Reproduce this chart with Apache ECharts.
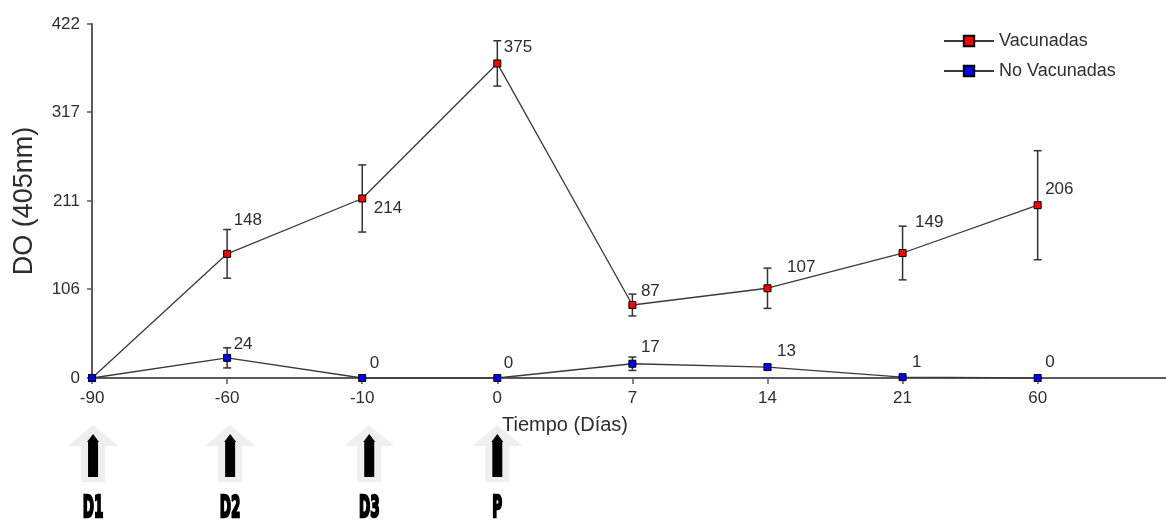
<!DOCTYPE html>
<html><head><meta charset="utf-8">
<script src="https://cdn.jsdelivr.net/npm/echarts@6/dist/echarts.min.js"></script>
<style>html,body{margin:0;padding:0;background:#fff}#c{width:1166px;height:522px}</style>
</head><body><div id="c"></div>
<script>
// ---- data ----
const categories = ['-90', '-60', '-10', '0', '7', '14', '21', '60'];
const vacunadas = [0, 148, 214, 375, 87, 107, 149, 206];
const vacunadasErr = [0, 29, 40, 27, 13, 24, 32, 65];
const noVacunadas = [0, 24, 0, 0, 17, 13, 1, 0];
const noVacunadasErr = [0, 12, 0, 0, 8, 3, 0, 0];
const yTicks = [0, 106, 211, 317, 422];
const doseLabels = ['D1', 'D2', 'D3', 'P'];
const doseCategories = ['-90', '-60', '-10', '0'];

// ---- styles ----
const FONT = 'Arial, "Liberation Sans", sans-serif';
const TXT = '#2e2e2e';
const vacLabelOffsets = [null, [6, -34], [11, 10], [6, -16], [8, -14], [19, -21], [12, -31], [7, -16]];
const noVacLabelOffsets = [null, [6, -14], [7, -15], [6, -15], [8, -16], [9, -16], [9, -15], [7, -16]];
const doseDx = [1, 3, 7, 0];

function lineData(vals, offs) {
  return vals.map((v, i) => {
    const o = offs[i];
    return {
      value: [i, v],
      label: o ? { show: true, offset: [o[0] - 3.5, o[1]] } : { show: false }
    };
  });
}
function errData(vals, errs) {
  return vals.map((v, i) => [i, v - errs[i], v + errs[i], errs[i]]).filter(d => d[3] > 0);
}
function renderErr(params, api) {
  const lo = api.coord([api.value(0), api.value(1)]);
  const hi = api.coord([api.value(0), api.value(2)]);
  const w = 4;
  const st = { stroke: '#333', lineWidth: 1.5 };
  return {
    type: 'group',
    children: [
      { type: 'line', shape: { x1: lo[0], y1: lo[1], x2: hi[0], y2: hi[1] }, style: st },
      { type: 'line', shape: { x1: lo[0] - w, y1: lo[1], x2: lo[0] + w, y2: lo[1] }, style: st },
      { type: 'line', shape: { x1: hi[0] - w, y1: hi[1], x2: hi[0] + w, y2: hi[1] }, style: st }
    ]
  };
}
const tickIdx = categories.map((c, i) => i);

const chart = echarts.init(document.getElementById('c'), null, { renderer: 'canvas' });
const labelStyle = { position: 'right', distance: 0, fontSize: 17, color: TXT, fontFamily: FONT };
chart.setOption({
  animation: false,
  backgroundColor: '#fff',
  textStyle: { fontFamily: FONT },
  grid: { left: 88, right: 0, top: 24, bottom: 144 },
  legend: {
    orient: 'vertical', left: 943, top: 32, padding: 0, itemWidth: 50, itemHeight: 13, itemGap: 12,
    textStyle: { fontSize: 18, color: TXT, fontFamily: FONT },
    data: ['Vacunadas', 'No Vacunadas']
  },
  xAxis: {
    type: 'value', min: -0.03, max: 7.95,
    name: 'Tiempo (Días)', nameLocation: 'middle', nameGap: 37,
    nameTextStyle: { fontSize: 20, color: TXT, fontFamily: FONT, padding: [0, 124, 0, 0] },
    axisLine: { lineStyle: { color: '#5a5a5a', width: 2 } },
    axisTick: { show: true, length: 6, customValues: tickIdx, lineStyle: { color: '#5a5a5a', width: 1.5 } },
    axisLabel: { customValues: tickIdx, formatter: v => categories[Math.round(v)], fontSize: 17, color: TXT, margin: 12, fontFamily: FONT },
    splitLine: { show: false }
  },
  yAxis: {
    type: 'value', min: 0, max: 422,
    name: 'DO (405nm)', nameLocation: 'middle', nameGap: 50,
    nameTextStyle: { fontSize: 27, color: TXT, fontFamily: FONT },
    axisLine: { show: true, lineStyle: { color: '#5a5a5a', width: 2 } },
    axisTick: { show: true, length: 5, customValues: yTicks, lineStyle: { color: '#5a5a5a', width: 1.5 } },
    axisLabel: { customValues: yTicks, fontSize: 17, color: TXT, margin: 8, fontFamily: FONT },
    splitLine: { show: false }
  },
  series: [
    { type: 'custom', name: 'errV', renderItem: renderErr, data: errData(vacunadas, vacunadasErr), z: 1, silent: true },
    { type: 'custom', name: 'errN', renderItem: renderErr, data: errData(noVacunadas, noVacunadasErr), z: 1, silent: true },
    {
      type: 'line', name: 'Vacunadas', data: lineData(vacunadas, vacLabelOffsets),
      symbol: 'rect', symbolSize: 7, z: 3,
      lineStyle: { color: '#3a3a3a', width: 1.3 },
      itemStyle: { color: '#ff0000', borderColor: '#000', borderWidth: 1 },
      label: labelStyle
    },
    {
      type: 'line', name: 'No Vacunadas', data: lineData(noVacunadas, noVacLabelOffsets),
      symbol: 'rect', symbolSize: 7, z: 3,
      lineStyle: { color: '#3a3a3a', width: 1.3 },
      itemStyle: { color: '#0000ff', borderColor: '#000', borderWidth: 1 },
      label: labelStyle
    }
  ]
});

// dose arrows under the x axis, placed at their categories via the axis scale
const graphics = [];
doseCategories.forEach((c, k) => {
  const idx = categories.indexOf(c);
  const cx = chart.convertToPixel({ xAxisIndex: 0 }, idx) + doseDx[k];
  graphics.push({
    type: 'polygon', z: 10,
    shape: { points: [[cx, 425], [cx + 25, 446], [cx + 12, 446], [cx + 12, 482], [cx - 12, 482], [cx - 12, 446], [cx - 25, 446]] },
    style: { fill: '#efefef' }
  });
  graphics.push({
    type: 'polygon', z: 11,
    shape: { points: [[cx, 434], [cx + 6, 442], [cx + 5, 442], [cx + 5, 477], [cx - 5, 477], [cx - 5, 442], [cx - 6, 442]] },
    style: { fill: '#000' }
  });
  graphics.push({
    type: 'text', z: 12, x: cx, y: 509, scaleX: 0.47, scaleY: 0.95,
    style: {
      text: doseLabels[k], x: 0, y: 0, align: 'center', verticalAlign: 'middle',
      font: 'bold 32px "Liberation Sans Narrow", "DejaVu Sans Condensed", sans-serif',
      fill: '#000', stroke: '#000', lineWidth: 2.5
    }
  });
});
chart.setOption({ graphic: graphics });
</script>
</body></html>
